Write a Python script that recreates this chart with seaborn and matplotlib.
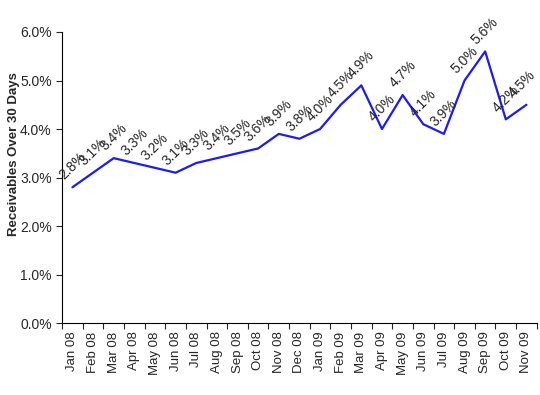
import numpy as np
import pandas as pd
import matplotlib
matplotlib.use("Agg")
import matplotlib.pyplot as plt
import seaborn as sns
from matplotlib.ticker import FuncFormatter

# data
months = ["Jan 08", "Feb 08", "Mar 08", "Apr 08", "May 08", "Jun 08", "Jul 08",
          "Aug 08", "Sep 08", "Oct 08", "Nov 08", "Dec 08", "Jan 09", "Feb 09",
          "Mar 09", "Apr 09", "May 09", "Jun 09", "Jul 09", "Aug 09", "Sep 09",
          "Oct 09", "Nov 09"]
receivables = [2.8, 3.1, 3.4, 3.3, 3.2, 3.1, 3.3, 3.4, 3.5, 3.6, 3.9, 3.8,
               4.0, 4.5, 4.9, 4.0, 4.7, 4.1, 3.9, 5.0, 5.6, 4.2, 4.5]

df = pd.DataFrame({"month": months, "value": receivables})
df["pos"] = range(len(df))

sns.set_style("white")
plt.rcParams["font.family"] = ["Liberation Sans", "DejaVu Sans"]

fig = plt.figure(figsize=(5.4, 3.95), dpi=100)
ax = fig.add_axes([0.115, 0.182, 0.879, 0.737])

sns.lineplot(data=df, x="pos", y="value", color="#1a1aff", linewidth=1.6, ax=ax)

last = len(df) - 1
for p, v in zip(df["pos"], df["value"]):
    dx = -3 if p == last else 0
    ax.annotate(f"{v:.1f}%", (p, v), xytext=(dx, 15), textcoords="offset points",
                rotation=45, ha="center", va="center", fontsize=10)

ax.set_xlim(-0.5, len(months) - 0.5)
ax.set_ylim(0, 6)
ax.set_yticks(np.arange(0, 6.01, 1))
ax.yaxis.set_major_formatter(FuncFormatter(lambda y, _: f"{y:.1f}%"))
ax.tick_params(axis="y", labelsize=10, length=4, direction="out", left=True, width=0.8)

ax.set_xticks(np.arange(-0.5, len(months), 1))
ax.set_xticklabels([])
ax.set_xticks(df["pos"], minor=True)
ax.set_xticklabels(months, minor=True, rotation=90, fontsize=9.5)
ax.tick_params(axis="x", which="major", length=4, direction="out", bottom=True, width=0.8)
ax.tick_params(axis="x", which="minor", length=0, pad=6)

ax.set_xlabel("")
ax.set_ylabel("Receivables Over 30 Days", fontsize=9.5, fontweight="bold")
ax.yaxis.set_label_coords(-0.088, 0.58)

for s in ["top", "right"]:
    ax.spines[s].set_visible(False)
for s in ["left", "bottom"]:
    ax.spines[s].set_color("black")
    ax.spines[s].set_linewidth(0.8)

fig.savefig("out.png", dpi=100)
